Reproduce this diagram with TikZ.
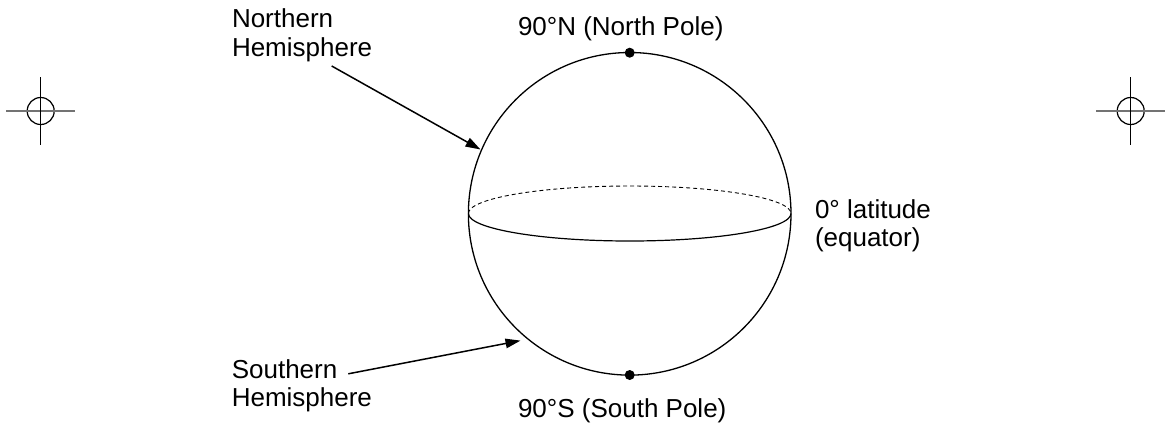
\documentclass[tikz,border=0pt]{standalone}
\usepackage{fontspec}
\setmainfont{Liberation Sans}
\usetikzlibrary{arrows.meta}
\tikzset{
  lbl/.style={anchor=base west, inner sep=0pt, outer sep=0pt, font=\fontsize{26pt}{29pt}\selectfont},
  pointer/.style={line width=1.5pt, -{Triangle[length=15pt,width=9.5pt]}, shorten >=0pt},
  poledot/.style={circle, fill=black, inner sep=0pt, minimum size=10pt},
  regcircle/.style={circle, draw=black, line width=1.2pt, inner sep=0pt, minimum size=27pt},
  reghoriz/.style={draw=black!55, line width=1.6pt},
  regvert/.style={draw=black, line width=1.2pt}
}
\begin{document}
\begin{tikzpicture}[x=1pt,y=-1pt]
\useasboundingbox (0,0) rectangle (1168,424);
% sphere
\node[circle, draw=black, line width=1.3pt, inner sep=0pt, minimum size=322.6pt] (sphere) at (629.7,213.8) {};
% equator
\coordinate (eqw) at (468.4,213.5);
\coordinate (eqe) at (791.0,213.5);
\draw[line width=0.9pt, dash pattern=on 4pt off 3pt] (eqw) arc[start angle=180, end angle=0, x radius=161.3pt, y radius=27.5pt];
\draw[line width=1.2pt] (eqw) arc[start angle=180, end angle=360, x radius=161.3pt, y radius=27.5pt];
% poles
\node[poledot] (npole) at (629.7,52.7) {};
\node[poledot] (spole) at (629.7,375.0) {};
% labels
\node[lbl] (ntop) at (518.0,35) {90°N (North Pole)};
\node[lbl] (sbot) at (518.0,417) {90°S (South Pole)};
\node[lbl] (eq1) at (815.0,218.3) {0° latitude};
\node[lbl] (eq2) at (815.0,246.3) {(equator)};
\node[lbl] (nh1) at (232.0,27.3) {Northern};
\node[lbl] (nh2) at (232.0,56.7) {Hemisphere};
\node[lbl] (sh1) at (231.8,378.3) {Southern};
\node[lbl] (sh2) at (231.8,406.7) {Hemisphere};
% pointers
\coordinate (nstart) at (331.7,66);
\coordinate (ntip) at (480.5,149.5);
\coordinate (sstart) at (348.3,373.8);
\coordinate (stip) at (520.5,340.6);
\draw[pointer] (nstart) -- (ntip);
\draw[pointer] (sstart) -- (stip);
% registration marks
\node[regcircle] (regl) at (40.7,111) {};
\draw[reghoriz] (6.2,111) -- (75.2,111);
\draw[regvert] (40.7,77) -- (40.7,145);
\node[regcircle] (regr) at (1130.7,111) {};
\draw[reghoriz] (1096.2,111) -- (1165.2,111);
\draw[regvert] (1130.7,77) -- (1130.7,145);
\end{tikzpicture}
\end{document}
